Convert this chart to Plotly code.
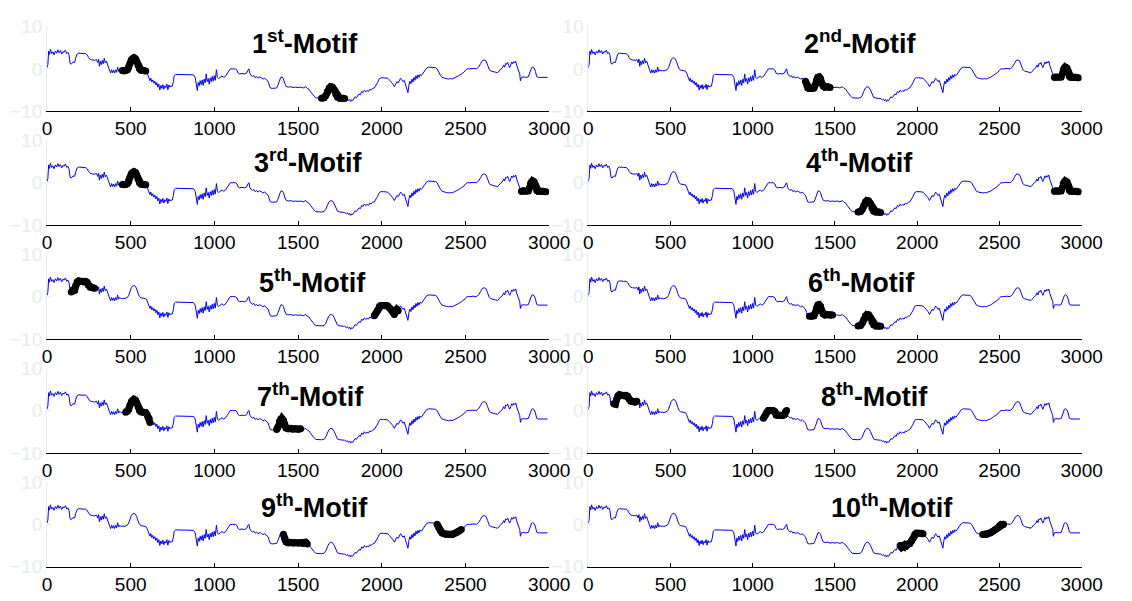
import plotly.graph_objects as go

# ---------------- data ----------------
series_x = [0, 5, 10, 15, 20, 28, 35, 42, 50, 58, 65, 72, 80, 88, 95, 102, 110, 118, 125, 132,
            138, 145, 155, 165, 172, 180, 190, 200, 215, 230, 240, 248, 258, 270, 285, 295, 303, 308,
            313, 318, 324, 330, 336, 342, 348, 355, 362, 368, 375, 380, 386, 392, 398, 404, 410, 416,
            422, 428, 435, 442, 450, 460, 470, 480, 488, 496, 504, 512, 520, 528, 536, 544, 552, 562,
            575, 590, 598, 604, 610, 615, 620, 626, 632, 638, 644, 650, 656, 662, 668, 674, 680, 686,
            692, 698, 704, 710, 716, 722, 728, 734, 740, 748, 755, 760, 768, 790, 820, 850, 875, 885,
            892, 898, 903, 909, 915, 921, 927, 933, 939, 945, 951, 957, 963, 969, 975, 981, 987, 993,
            999, 1005, 1012, 1018, 1025, 1035, 1045, 1055, 1065, 1075, 1085, 1095, 1110, 1125, 1135,
            1142, 1150, 1165, 1180, 1192, 1200, 1206, 1212, 1218, 1228, 1236, 1244, 1252, 1260, 1270,
            1280, 1290, 1300, 1310, 1320, 1328, 1334, 1345, 1360, 1372, 1380, 1388, 1396, 1404, 1412,
            1420, 1428, 1440, 1455, 1470, 1485, 1500, 1515, 1530, 1545, 1555, 1565, 1575, 1585, 1595,
            1605, 1620, 1640, 1655, 1665, 1675, 1685, 1695, 1705, 1715, 1725, 1735, 1750, 1765, 1778,
            1788, 1795, 1802, 1808, 1814, 1820, 1826, 1832, 1840, 1848, 1856, 1864, 1872, 1880, 1888,
            1896, 1904, 1912, 1920, 1928, 1936, 1945, 1955, 1965, 1975, 1985, 1995, 2010, 2025, 2035,
            2045, 2055, 2065, 2075, 2082, 2090, 2098, 2106, 2112, 2118, 2126, 2134, 2142, 2150, 2156,
            2162, 2168, 2174, 2180, 2186, 2192, 2198, 2204, 2210, 2216, 2222, 2228, 2236, 2244, 2252,
            2260, 2268, 2280, 2300, 2320, 2330, 2340, 2350, 2360, 2372, 2385, 2398, 2410, 2420, 2430,
            2445, 2460, 2475, 2490, 2500, 2510, 2525, 2545, 2565, 2578, 2590, 2600, 2612, 2622, 2632,
            2642, 2652, 2665, 2680, 2692, 2702, 2712, 2720, 2728, 2734, 2740, 2746, 2752, 2758, 2764,
            2770, 2776, 2782, 2788, 2794, 2800, 2806, 2812, 2818, 2824, 2828, 2834, 2845, 2860, 2875,
            2882, 2888, 2895, 2902, 2910, 2918, 2925, 2935, 2950, 2965, 2980, 2990]

series_y = [0.3, 1.0, 4.2, 3.4, 4.6, 3.6, 4.0, 3.3, 4.2, 3.7, 4.5, 3.8, 4.3, 3.5, 4.1, 3.9, 4.4, 3.6, 3.9, 3.2,
            1.3, 1.1, 1.6, 1.5, 2.6, 3.5, 3.7, 3.6, 3.6, 3.6, 3.3, 2.7, 2.2, 2.1, 2.0, 2.2, 1.5, 2.3,
            0.6, 1.8, 1.0, 2.0, 1.2, 2.5, 1.4, 1.8, 0.8, 0.3, -0.5, -1.0, -0.2, -0.9, -0.3, -1.0, -0.2, -0.8,
            0.4, -0.6, -0.2, -0.5, -0.4, -0.5, -0.4, -0.2, 0.3, 1.3, 2.1, 2.5, 2.6, 2.4, 1.8, 0.8, 0.0, -0.3,
            -0.4, -0.5, -1.0, -1.6, -1.9, -2.8, -2.2, -3.1, -2.6, -3.4, -2.9, -3.8, -3.2, -4.3, -3.6, -5.0, -3.9, -4.6,
            -3.7, -4.8, -4.0, -4.4, -3.6, -4.9, -3.8, -4.3, -4.1, -4.1, -3.0, -1.6, -1.3, -1.3, -1.3, -1.3, -1.4, -2.0,
            -3.5, -5.1, -3.2, -4.0, -2.8, -3.7, -2.6, -3.9, -2.4, -3.3, -1.2, -3.0, -2.3, -3.6, -2.1, -3.0, -1.8, -2.9,
            -1.6, -2.7, -0.2, -2.0, -2.3, -1.9, -1.7, -2.0, -1.8, -1.2, -0.4, 0.0, 0.0, 0.0, -0.3,
            -1.0, -1.2, -1.1, -1.2, -1.0, -0.3, 0.0, -1.1, -1.5, -1.8, -1.6, -2.1, -1.8, -2.2, -1.9,
            -2.1, -2.4, -2.2, -2.5, -2.9, -3.8, -4.5, -4.6, -4.6, -4.5, -3.8, -2.6, -2.0, -1.9, -2.3,
            -3.4, -4.1, -4.3, -4.2, -4.4, -4.3, -4.4, -4.3, -4.5, -4.2, -4.6, -4.8, -5.4, -6.0, -6.4,
            -6.8, -6.9, -6.9, -6.8, -6.3, -5.3, -4.5, -4.2, -4.3, -4.9, -6.0, -6.7, -6.9, -6.9, -7.0,
            -7.3, -7.1, -7.5, -7.2, -7.7, -7.3, -7.5, -7.0, -6.6, -6.8, -6.2, -5.9, -6.1, -5.3, -5.6,
            -5.0, -5.4, -5.1, -5.3, -4.8, -5.0, -4.6, -4.5, -3.9, -3.2, -2.3, -2.1, -2.1, -2.1, -2.2,
            -2.6, -3.0, -3.5, -4.2, -3.5, -3.0, -3.3, -2.6, -2.2, -2.5, -3.0, -2.7, -3.6, -4.6, -5.6,
            -3.8, -2.9, -3.5, -2.4, -3.1, -2.0, -2.7, -1.6, -2.3, -1.4, -2.0, -1.3, -1.6, -1.2, -0.8,
            -0.2, 0.2, 0.4, 0.4, 0.3, 0.0, -0.8, -1.5, -2.0, -2.2, -2.3, -2.4, -2.3, -2.4, -2.2,
            -2.0, -1.6, -1.2, -0.8, -0.3, 0.0, 0.0, 0.1, 0.0, 0.4, 1.2, 1.9, 2.1, 1.9, 0.9,
            -0.2, -0.5, -0.7, -0.8, -0.9, -0.4, 0.0, 0.2, 0.9, 0.4, 1.3, 1.1, 1.5, 0.8, 0.3,
            0.9, 1.6, 1.2, 1.7, 1.4, 1.8, 0.8, 0.1, -0.6, -1.2, -2.8, -2.0, -1.9, -2.0, -1.9,
            -1.2, -0.2, 0.3, 0.4, 0.2, -0.6, -1.8, -2.0, -2.0, -2.0, -2.1, -2.0]

panel_titles = ["1<sup>st</sup>-Motif", "2<sup>nd</sup>-Motif", "3<sup>rd</sup>-Motif", "4<sup>th</sup>-Motif",
                "5<sup>th</sup>-Motif", "6<sup>th</sup>-Motif", "7<sup>th</sup>-Motif", "8<sup>th</sup>-Motif",
                "9<sup>th</sup>-Motif", "10<sup>th</sup>-Motif"]

motif_starts = [[445, 1630], [1320, 2830], [445, 2830], [1630, 2830], [140, 1955],
                [1340, 1630], [465, 1370], [150, 1060], [1410, 2330], [1890, 2390]]
motif_length = 150

x_ticks = [0, 500, 1000, 1500, 2000, 2500, 3000]
y_ticks = [-10, 0, 10]

# ---------------- layout (pixel positions) ----------------
W, H = 1132, 601
col_px = [(43, 557), (597, 1102)]
row_bottom_px = [105, 223, 341, 459, 577]
plot_h = 88
title_cx = [[307, 876], [310, 875], [315, 877], [313, 890], [317, 908]]
title_above_axis = [60, 55, 48, 48, 51]
FAINT = "#e6ede8"
FONT = "Liberation Sans, Arial, sans-serif"

fig = go.Figure()
layout = dict(width=W, height=H, margin=dict(l=0, r=0, t=0, b=0),
              paper_bgcolor="white", plot_bgcolor="white", showlegend=False,
              annotations=[])

for i in range(10):
    r, c = divmod(i, 2)
    n = "" if i == 0 else str(i + 1)
    xa, ya = "x" + n, "y" + n
    fig.add_trace(go.Scatter(x=series_x, y=series_y, mode="lines",
                             line=dict(color="#0000ff", width=1),
                             xaxis=xa, yaxis=ya, hoverinfo="skip"))
    for s in motif_starts[i]:
        mx = [xv for xv in series_x if s <= xv <= s + motif_length]
        my = [series_y[k] for k, xv in enumerate(series_x) if s <= xv <= s + motif_length]
        fig.add_trace(go.Scatter(x=mx, y=my, mode="lines+markers",
                                 line=dict(color="black", width=7),
                                 marker=dict(color="black", size=7),
                                 xaxis=xa, yaxis=ya, hoverinfo="skip"))
    x0, x1 = col_px[c]
    yb = row_bottom_px[r]
    yt = yb - plot_h
    layout["xaxis" + n] = dict(domain=[x0 / W, x1 / W], anchor=ya, range=[0, 3000],
                               tickvals=x_ticks, ticks="inside", ticklen=4, tickcolor="black",
                               showline=True, linecolor="black", linewidth=1,
                               showgrid=False, zeroline=False,
                               tickfont=dict(family=FONT, size=19, color="black"))
    layout["yaxis" + n] = dict(domain=[1 - yb / H, 1 - yt / H], anchor=xa, range=[-10, 10],
                               tickvals=y_ticks, ticks="inside", ticklen=4, tickcolor=FAINT,
                               showline=True, linecolor=FAINT, linewidth=1,
                               showgrid=False, zeroline=False,
                               tickfont=dict(family=FONT, size=19, color=FAINT))
    ty = yb - title_above_axis[r]
    layout["annotations"].append(dict(
        text="<b>" + panel_titles[i] + "</b>", xref="paper", yref="paper",
        x=title_cx[r][c] / W, y=1 - (ty - 12) / H, xanchor="center", yanchor="middle",
        showarrow=False, font=dict(family=FONT, size=27, color="black")))

fig.update_layout(**layout)
fig.write_html("out.html")
